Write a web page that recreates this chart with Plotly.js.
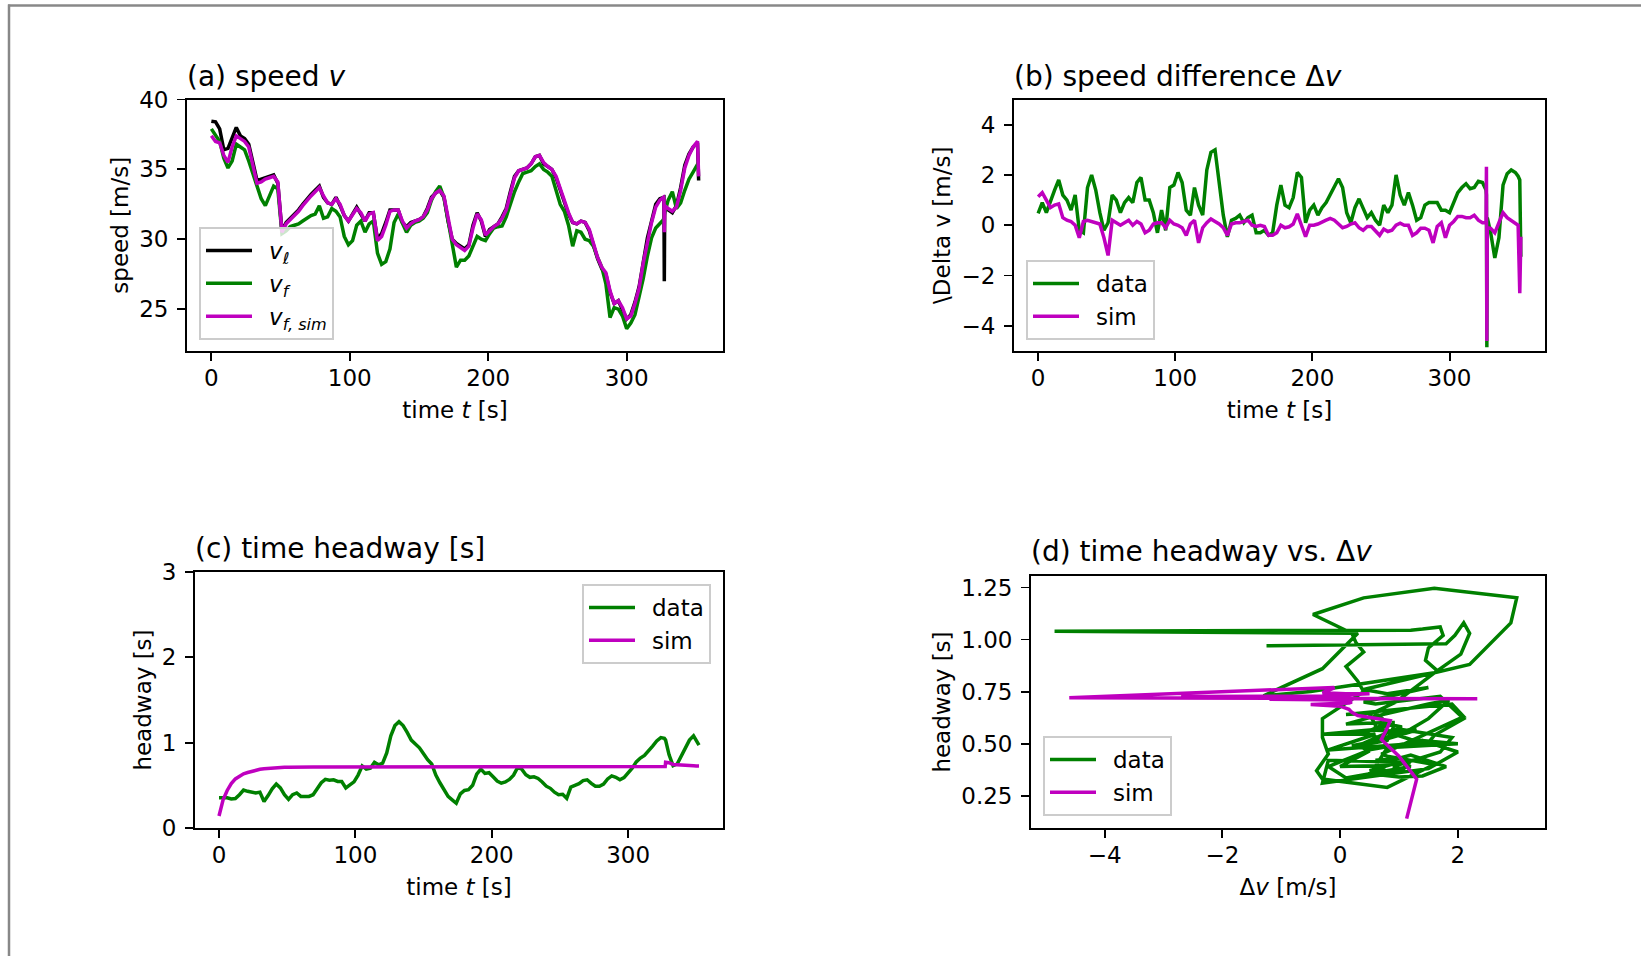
<!DOCTYPE html>
<html><head><meta charset="utf-8">
<script src="https://cdn.plot.ly/plotly-3.0.1.min.js"></script>
<style>html,body{margin:0;padding:0;background:#fff;}#chart{width:1641px;height:956px;}</style>
</head><body><div id="chart"></div>
<script>
// ---------- data ----------
const time = [0,3,6,9,12,15,18,21,24,27,
30,33,36,39,42,45,48,51,54,57,
60,63,66,69,72,75,78,81,84,87,
90,93,96,99,102,105,108,111,114,117,
120,123,126,129,132,135,138,141,144,147,
150,153,156,159,162,165,168,171,174,177,
180,183,186,189,192,195,198,201,204,207,
210,213,216,219,222,225,228,231,234,237,
240,243,246,249,252,255,258,261,264,267,
270,273,276,279,282,285,288,291,294,297,
300,303,306,309,312,315,318,321,324,
326.6,326.9,327.2,327.5,
330,333,336,339,342,345,348,
350,351.2,352];

const speedLeader = [38.45,38.4,37.9,36.4,36.5,37.3,38.0,37.4,37.2,36.8,
35.6,34.2,34.3,34.4,34.5,34.6,34.0,30.6,31.2,31.5,
31.8,32.1,32.5,32.9,33.2,33.5,33.8,33.0,32.6,32.5,
33.0,32.4,31.7,31.3,31.8,32.3,31.8,31.3,31.9,31.9,
30.0,30.4,31.2,32.1,32.1,32.1,31.2,30.9,31.2,31.3,
31.4,31.6,32.2,33.0,33.3,33.5,33.0,31.3,30.0,29.7,
29.5,29.3,29.6,31.0,31.9,31.3,30.2,30.7,30.9,31.1,
31.6,32.2,33.4,34.5,34.9,35.0,35.1,35.4,35.9,36.0,
35.4,35.2,35.0,34.4,33.5,32.6,31.8,31.2,31.1,31.3,
31.2,30.6,29.5,28.6,27.9,27.5,26.2,25.4,25.6,25.0,
24.3,24.6,25.5,26.6,28.5,30.1,31.3,32.5,32.9,
33.0,33.0,27.0,32.2,
32.1,31.9,32.4,33.7,35.3,36.1,36.6,
36.8,36.9,34.2];

const speedFollower = [37.9,37.4,37.0,35.8,35.1,35.6,36.8,36.6,36.4,35.6,
34.6,33.8,32.9,32.4,33.1,33.8,33.6,30.4,30.6,30.9,
31.0,31.1,31.3,31.5,31.7,31.8,32.4,31.5,31.6,32.2,
32.0,31.6,30.2,29.6,29.9,31.0,31.3,30.5,31.1,31.3,
29.0,28.2,28.4,29.3,31.2,31.8,31.2,30.5,31.0,31.2,
31.3,31.5,31.9,32.8,33.4,33.8,33.0,31.3,29.4,28.0,
28.5,28.5,28.8,29.5,30.2,30.0,29.9,30.4,30.8,30.9,
30.95,31.6,32.6,33.4,34.1,34.7,34.8,34.9,35.2,35.4,
35.0,34.8,34.5,33.6,32.5,32.0,31.0,29.5,30.6,30.5,
30.0,29.9,29.5,28.7,28.0,26.8,24.4,25.1,25.0,24.5,
23.6,24.0,24.6,25.9,27.2,28.8,30.1,30.8,31.1,
31.4,31.6,31.8,31.9,
32.8,33.4,32.2,32.6,33.5,34.3,34.8,
35.1,35.3,35.5];

const speedSim = [37.4,37.0,36.9,36.0,35.5,36.6,37.4,37.2,37.0,36.6,
35.4,34.0,34.1,34.3,34.4,34.5,34.1,30.5,31.1,31.4,
31.7,32.0,32.4,32.8,33.1,33.4,33.7,33.1,32.6,32.5,
32.9,32.5,31.7,31.3,31.7,32.2,31.9,31.3,31.8,31.9,
29.9,30.2,31.0,32.0,32.1,32.1,31.3,30.8,31.1,31.3,
31.4,31.6,32.1,32.9,33.3,33.5,33.1,31.4,30.0,29.6,
29.4,29.2,29.5,30.8,31.8,31.4,30.3,30.6,30.9,31.1,
31.5,32.1,33.2,34.4,34.9,35.0,35.1,35.4,35.9,36.0,
35.5,35.2,35.0,34.5,33.6,32.7,31.9,31.2,31.1,31.3,
31.2,30.7,29.6,28.7,28.0,27.6,26.3,25.4,25.6,25.1,
24.3,24.5,25.4,26.5,28.3,29.9,31.2,32.3,32.8,
33.0,32.9,30.5,32.4,
32.2,32.0,32.3,33.5,35.1,36.0,36.6,
36.9,37.0,34.5];

const dvData = [0.47,0.9,0.5,1.0,1.4,1.8,1.2,1.0,0.6,1.2,
-0.2,-0.3,1.5,2.0,1.4,0.5,-0.2,0.1,1.2,1.0,
0.5,0.9,1.1,0.9,1.7,1.9,1.0,1.0,0.5,-0.3,
0.6,-0.2,1.5,1.6,2.1,1.7,0.6,0.4,1.5,0.8,
0.4,2.2,2.9,3.0,1.6,0.4,-0.46,0.2,0.27,0.4,
0.1,0.3,0.4,-0.3,-0.3,-0.2,-0.4,-0.3,0.8,1.6,
0.8,0.7,1.1,2.1,1.9,0.1,0.6,0.8,0.4,0.7,
0.9,1.2,1.5,1.85,1.5,0.5,0.1,0.7,1.05,0.7,
0.3,0.5,0.2,0.0,0.8,0.5,0.8,2.0,1.2,0.8,
1.3,0.8,0.2,0.3,0.8,0.9,0.9,0.9,0.6,0.6,
0.5,0.95,1.3,1.5,1.65,1.45,1.5,1.75,1.7,
1.4,1.2,-4.85,0.3,
-0.3,-1.3,-0.5,1.6,2.05,2.2,2.1,
1.95,1.8,-1.25];

const dvSim = [1.13,1.3,1.0,0.7,0.8,0.85,0.3,0.2,0.15,0.0,
-0.5,0.15,0.2,0.15,0.1,0.05,-0.5,-1.2,0.2,0.1,
0.0,0.1,0.2,0.0,0.15,0.05,-0.3,-0.2,0.05,0.1,
0.1,-0.1,0.2,0.05,0.0,-0.1,-0.4,0.05,0.2,-0.7,
-0.1,0.1,0.25,0.15,0.05,-0.1,-0.4,0.05,0.1,0.1,
0.15,0.2,0.0,-0.05,0.0,-0.05,-0.4,-0.4,-0.3,0.0,
-0.1,-0.06,0.05,0.45,0.0,-0.45,0.0,0.0,0.05,0.14,
0.2,0.27,0.2,0.05,-0.1,-0.05,0.05,0.1,-0.1,-0.2,
-0.05,-0.05,-0.25,-0.4,-0.15,-0.25,-0.2,0.0,0.08,0.0,
0.0,-0.4,-0.3,-0.12,-0.12,-0.2,-0.7,-0.05,0.1,-0.5,
0.0,0.15,0.35,0.35,0.3,0.3,0.4,0.2,0.1,
0.1,2.33,-4.6,-0.1,
-0.12,-0.3,0.1,0.5,0.3,0.2,0.1,
0.0,-2.7,-0.46];

const headwayData = [0.355,0.355,0.355,0.34,0.345,0.39,0.445,0.43,0.42,0.41,
0.42,0.31,0.38,0.46,0.515,0.47,0.39,0.335,0.39,0.41,
0.37,0.37,0.37,0.39,0.46,0.53,0.57,0.56,0.565,0.545,
0.545,0.47,0.505,0.54,0.62,0.727,0.69,0.70,0.77,0.74,
0.76,0.88,1.08,1.2,1.246,1.2,1.12,1.03,0.985,0.94,
0.87,0.8,0.75,0.62,0.53,0.45,0.37,0.33,0.29,0.4,
0.44,0.45,0.5,0.63,0.69,0.64,0.648,0.6,0.55,0.525,
0.54,0.57,0.62,0.71,0.69,0.625,0.594,0.6,0.58,0.54,
0.49,0.465,0.42,0.39,0.395,0.348,0.48,0.5,0.52,0.555,
0.565,0.523,0.49,0.49,0.515,0.575,0.61,0.594,0.565,0.59,
0.64,0.7,0.775,0.82,0.85,0.9,0.96,1.02,1.06,
1.05,1.045,1.04,1.03,
0.86,0.73,0.75,0.84,0.93,1.03,1.08,
1.02,0.98,0.97];

const headwaySim = [0.14,0.33,0.44,0.52,0.575,0.61,0.635,0.65,0.665,0.68,
0.688,0.695,0.70,0.705,0.708,0.71,0.712,0.713,0.715,0.715,
0.716,0.716,0.716,0.716,0.716,0.716,0.716,0.716,0.716,0.716,
0.716,0.716,0.716,0.716,0.716,0.716,0.716,0.716,0.716,0.716,
0.716,0.716,0.716,0.716,0.716,0.716,0.716,0.716,0.716,0.716,
0.716,0.716,0.716,0.716,0.716,0.716,0.716,0.716,0.716,0.716,
0.716,0.716,0.716,0.716,0.716,0.716,0.716,0.716,0.716,0.716,
0.716,0.716,0.716,0.716,0.716,0.716,0.716,0.716,0.716,0.716,
0.716,0.716,0.716,0.716,0.716,0.716,0.716,0.716,0.716,0.716,
0.716,0.716,0.716,0.716,0.716,0.716,0.716,0.716,0.716,0.716,
0.716,0.716,0.716,0.716,0.716,0.716,0.716,0.716,0.716,
0.716,0.716,0.72,0.77,
0.765,0.745,0.74,0.74,0.737,0.735,0.73,
0.728,0.727,0.727];

const timeTicks = [0,100,200,300];
const speedTicks = [25,30,35,40];
const dvTicks = [-4,-2,0,2,4];
const headwayTicks = [0,1,2,3];
const dvTicksD = [-4,-2,0,2];
const headwayTicksD = [0.25,0.5,0.75,1.0,1.25];
const headwayTickTextD = ['0.25','0.50','0.75','1.00','1.25'];

// ---------- layout helpers ----------
const W = 1641, H = 956;
const px = x => x / W;
const py = y => 1 - y / H;
const FONT = 'DejaVu Sans, sans-serif';
const GREEN = '#008000', MAG = '#bf00bf', BLACK = '#000000';
const LW = 3.5;

function axis(letter, domain, range, tickvals, titleText, anchor, ticktext) {
  const isX = letter === 'x';
  const a = {
    domain: domain, range: range, anchor: anchor, autorange: false,
    showgrid: false, zeroline: false,
    showline: true, linecolor: '#000', linewidth: 1.9, mirror: true,
    ticks: 'outside', ticklen: 8, tickwidth: 1.9, tickcolor: '#000',
    tickmode: 'array', tickvals: tickvals,
    tickfont: {family: FONT, size: 23, color: '#000'},
    ticklabelstandoff: isX ? -3 : 4,
    title: {text: titleText, font: {family: FONT, size: 23, color: '#000'}, standoff: isX ? 12 : 4},
    automargin: false, fixedrange: true
  };
  if (ticktext) a.ticktext = ticktext;
  return a;
}

function legendBox(x, y, xanchor, yanchor) {
  return {x: px(x), y: py(y), xanchor: xanchor, yanchor: yanchor,
    xref: 'paper', yref: 'paper', itemwidth: 58,
    bgcolor: 'rgba(255,255,255,0.8)', bordercolor: '#cccccc', borderwidth: 2,
    font: {family: FONT, size: 23, color: '#000'}, tracegroupgap: 0};
}

function title(text, leftPx, baselinePx) {
  return {text: text, xref: 'paper', yref: 'paper', x: px(leftPx - 2), y: py(baselinePx + 8.6),
    xanchor: 'left', yanchor: 'bottom', showarrow: false,
    font: {family: FONT, size: 28, color: '#000'}};
}

const traces = [
  {x: time, y: speedLeader, xaxis: 'x', yaxis: 'y', mode: 'lines', name: '<i>v</i><sub>ℓ</sub>',
   line: {color: BLACK, width: LW}, legend: 'legend'},
  {x: time, y: speedFollower, xaxis: 'x', yaxis: 'y', mode: 'lines', name: '<i>v</i><sub><i>f</i></sub>',
   line: {color: GREEN, width: LW}, legend: 'legend'},
  {x: time, y: speedSim, xaxis: 'x', yaxis: 'y', mode: 'lines', name: '<i>v</i><sub><i>f, sim</i></sub>',
   line: {color: MAG, width: LW}, legend: 'legend'},
  {x: time, y: dvData, xaxis: 'x2', yaxis: 'y2', mode: 'lines', name: 'data',
   line: {color: GREEN, width: LW}, legend: 'legend2'},
  {x: time, y: dvSim, xaxis: 'x2', yaxis: 'y2', mode: 'lines', name: 'sim',
   line: {color: MAG, width: LW}, legend: 'legend2'},
  {x: time, y: headwayData, xaxis: 'x3', yaxis: 'y3', mode: 'lines', name: 'data',
   line: {color: GREEN, width: LW}, legend: 'legend3'},
  {x: time, y: headwaySim, xaxis: 'x3', yaxis: 'y3', mode: 'lines', name: 'sim',
   line: {color: MAG, width: LW}, legend: 'legend3'},
  {x: dvData, y: headwayData, xaxis: 'x4', yaxis: 'y4', mode: 'lines', name: 'data',
   line: {color: GREEN, width: LW}, legend: 'legend4'},
  {x: dvSim, y: headwaySim, xaxis: 'x4', yaxis: 'y4', mode: 'lines', name: 'sim',
   line: {color: MAG, width: LW}, legend: 'legend4'}
];

const layout = {
  width: W, height: H, margin: {l: 0, r: 0, t: 0, b: 0, pad: 0},
  paper_bgcolor: '#fff', plot_bgcolor: '#fff',
  font: {family: FONT, size: 23, color: '#000'},
  showlegend: true, hovermode: false,
  xaxis: axis('x', [px(187), px(723)], [-17.6, 369.6], timeTicks, 'time <i>t</i> [s]', 'y'),
  yaxis: axis('y', [py(351), py(99.5)], [22, 40], speedTicks, 'speed [m/s]', 'x'),
  xaxis2: axis('x', [px(1014), px(1545)], [-17.6, 369.6], timeTicks, 'time <i>t</i> [s]', 'y2'),
  yaxis2: axis('y', [py(351), py(99.5)], [-5, 5], dvTicks, '\\Delta v [m/s]', 'x2'),
  xaxis3: axis('x', [px(195), px(723)], [-17.6, 369.6], timeTicks, 'time <i>t</i> [s]', 'y3'),
  yaxis3: axis('y', [py(828), py(572)], [0, 3], headwayTicks, 'headway [s]', 'x3'),
  xaxis4: axis('x', [px(1031), px(1545)], [-5.25, 3.48], dvTicksD, 'Δ<i>v</i> [m/s]', 'y4'),
  yaxis4: axis('y', [py(828), py(576)], [0.095, 1.305], headwayTicksD, 'headway [s]', 'x4', headwayTickTextD),
  legend: legendBox(199, 340, 'left', 'bottom'),
  legend2: legendBox(1026, 340, 'left', 'bottom'),
  legend3: legendBox(711, 584, 'right', 'top'),
  legend4: legendBox(1043, 816, 'left', 'bottom'),
  annotations: [
    title('(a) speed <i>v</i>', 187, 86),
    title('(b) speed difference Δ<i>v</i>', 1014, 86),
    title('(c) time headway [s]', 195, 558),
    title('(d) time headway vs. Δ<i>v</i>', 1031, 561)
  ],
  shapes: [
    {type: 'line', xref: 'paper', yref: 'paper', x0: px(8), x1: 1.02, y0: py(5.5), y1: py(5.5),
     line: {color: '#888888', width: 2.5}},
    {type: 'line', xref: 'paper', yref: 'paper', x0: px(9), x1: px(9), y0: py(4.5), y1: -0.02,
     line: {color: '#888888', width: 2.5}}
  ]
};

Plotly.newPlot('chart', traces, layout, {staticPlot: true, displayModeBar: false}).then(function (gd) {
  // longer legend handles, like the reference's legend lines
  gd.querySelectorAll('.legendlines path').forEach(function (p) { p.setAttribute('d', 'M5,0h46'); });
});
</script></body></html>
